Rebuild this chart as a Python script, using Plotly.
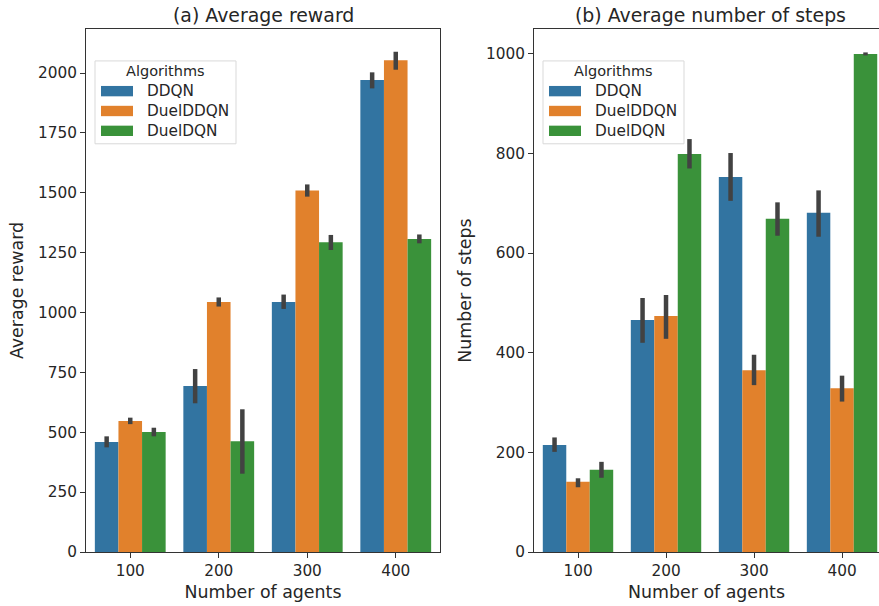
import plotly.graph_objects as go

categories = ["100", "200", "300", "400"]
algorithms = ["DDQN", "DuelDDQN", "DuelDQN"]
colors = ["#3274a1", "#e1812c", "#3a923a"]

# (a) Average reward: mean, upper, lower of CI
reward_mean = {
    "DDQN": [459, 693, 1044, 1971],
    "DuelDDQN": [547, 1044, 1510, 2053],
    "DuelDQN": [501, 463, 1294, 1307],
}
reward_hi = {
    "DDQN": [483, 764, 1075, 2003],
    "DuelDDQN": [561, 1063, 1535, 2089],
    "DuelDQN": [519, 596, 1324, 1326],
}
reward_lo = {
    "DDQN": [437, 621, 1015, 1936],
    "DuelDDQN": [534, 1025, 1484, 2014],
    "DuelDQN": [483, 327, 1261, 1289],
}

# (b) Average number of steps
steps_mean = {
    "DDQN": [215, 466, 753, 681],
    "DuelDDQN": [141, 474, 365, 329],
    "DuelDQN": [165, 799, 669, 1000],
}
steps_hi = {
    "DDQN": [230, 510, 801, 726],
    "DuelDDQN": [148, 516, 396, 354],
    "DuelDQN": [181, 829, 702, 1003],
}
steps_lo = {
    "DDQN": [201, 420, 705, 633],
    "DuelDDQN": [130, 428, 335, 302],
    "DuelDQN": [149, 770, 635, 997],
}

W, H = 879, 606
FONT = "DejaVu Sans"
AXC = "#262626"
TICK = 15.3
LAB = 17.4
TTL = 18.9

fig = go.Figure()

def add_bars(mean, hi, lo, xa, ya):
    for alg, col in zip(algorithms, colors):
        m = mean[alg]
        up = [h - v for h, v in zip(hi[alg], m)]
        dn = [v - l for l, v in zip(lo[alg], m)]
        fig.add_trace(go.Bar(
            x=categories, y=m, name=alg, marker=dict(color=col, line=dict(width=0)),
            xaxis=xa, yaxis=ya, showlegend=False, offsetgroup=alg,
            error_y=dict(type="data", symmetric=False, array=up, arrayminus=dn,
                         color="#424242", thickness=4.5, width=0),
        ))

add_bars(reward_mean, reward_hi, reward_lo, "x", "y")
add_bars(steps_mean, steps_hi, steps_lo, "x2", "y2")

x1d = [86 / W, 440 / W]
x2d = [534 / W, 1.0]

axis_common = dict(showgrid=False, zeroline=False, showline=True, linecolor="#333333",
                   linewidth=1, ticks="outside", ticklen=5, tickcolor="#333333",
                   tickfont=dict(family=FONT, size=TICK, color=AXC))

fig.update_layout(
    width=W, height=H,
    margin=dict(l=0, r=0, t=29, b=54),
    paper_bgcolor="white", plot_bgcolor="white",
    barmode="group", bargap=0.2, bargroupgap=0,
    font=dict(family=FONT, color=AXC),
    xaxis=dict(domain=x1d, anchor="y", range=[-0.5, 3.5], mirror=True,
               type="category", **axis_common,
               title=dict(text="Number of agents", font=dict(family=FONT, size=LAB, color=AXC), standoff=6)),
    yaxis=dict(domain=[0, 1], anchor="x", range=[0, 2184], mirror=True,
               tickvals=[0, 250, 500, 750, 1000, 1250, 1500, 1750, 2000], **axis_common,
               title=dict(text="Average reward", font=dict(family=FONT, size=LAB, color=AXC), standoff=9)),
    xaxis2=dict(domain=x2d, anchor="y2", range=[-0.5, 3.42], mirror=True,
                type="category", **axis_common,
                title=dict(text="Number of agents", font=dict(family=FONT, size=LAB, color=AXC), standoff=6)),
    yaxis2=dict(domain=[0, 1], anchor="x2", range=[0, 1050], mirror=False,
                tickvals=[0, 200, 400, 600, 800, 1000], **axis_common,
                title=dict(text="Number of steps", font=dict(family=FONT, size=LAB, color=AXC), standoff=9)),
)

# Titles
for cxp, txt in [(263, "(a) Average reward"), (710.5, "(b) Average number of steps")]:
    fig.add_annotation(x=cxp / W, y=1, xref="paper", yref="paper", xanchor="center",
                       yanchor="bottom", text=txt, showarrow=False, yshift=1,
                       font=dict(family=FONT, size=TTL, color=AXC))

# Custom legends (matplotlib-like)
def px_x(p):
    return p / W

def px_y(p):
    return 1 - p / H

def legend(x0, x1):
    fig.add_shape(type="rect", xref="paper", yref="paper",
                  x0=px_x(x0), x1=px_x(x1), y0=px_y(133), y1=px_y(37),
                  line=dict(color="#d9d9d9", width=1), fillcolor="rgba(255,255,255,0.8)",
                  layer="above")
    fig.add_annotation(x=px_x((x0 + x1) / 2), y=px_y(49), xref="paper", yref="paper",
                       text="Algorithms", showarrow=False, xanchor="center", yanchor="middle",
                       font=dict(family=FONT, size=14.5, color=AXC))
    for i, (alg, col) in enumerate(zip(algorithms, colors)):
        yc = 72 + i * 23
        fig.add_shape(type="rect", xref="paper", yref="paper",
                      x0=px_x(x0 + 6), x1=px_x(x0 + 38), y0=px_y(yc + 6), y1=px_y(yc - 6),
                      line=dict(width=0), fillcolor=col, layer="above")
        fig.add_annotation(x=px_x(x0 + 50), y=px_y(yc), xref="paper", yref="paper",
                           text=alg, showarrow=False, xanchor="left", yanchor="middle",
                           font=dict(family=FONT, size=TICK, color=AXC))

legend(95, 236)
legend(543, 684)

fig.write_html("out.html")
